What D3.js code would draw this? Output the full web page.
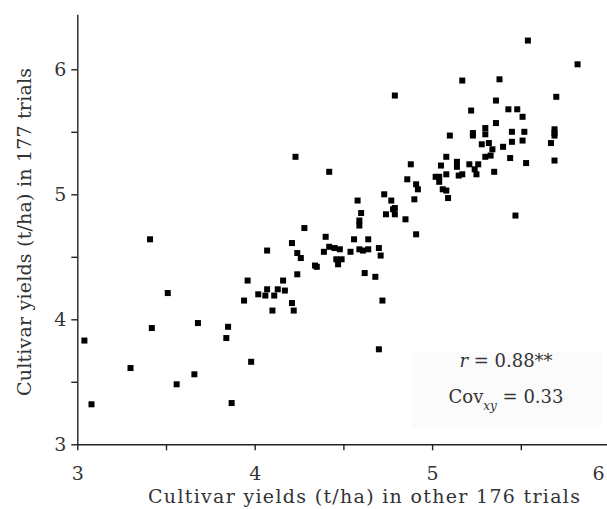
<!DOCTYPE html>
<html>
<head>
<meta charset="utf-8">
<script src="https://cdn.jsdelivr.net/npm/d3@7"></script>
<style>
  body { margin: 0; background: #fff; }
  svg { display: block; }
  .tick text { font-family: "DejaVu Serif", serif; }
</style>
</head>
<body>
<svg id="scatter" width="607" height="509"></svg>
<script>
// yields in the other 176 trials (x) and in 177 trials (y), per cultivar
var xVals = [3.04,3.08,3.30,3.42,3.41,3.51,3.56,3.66,3.68,3.84,
  3.85,3.87,3.94,3.96,3.98,4.02,4.06,4.07,4.10,4.11,
  4.13,4.16,4.17,4.21,4.22,4.07,4.21,4.24,4.26,4.28,
  4.24,4.23,4.40,4.34,4.35,4.39,4.42,4.45,4.48,4.46,
  4.49,4.47,4.54,4.56,4.64,4.59,4.61,4.64,4.70,4.71,
  4.62,4.68,4.72,4.70,4.59,4.59,4.58,4.60,4.42,4.73,
  4.77,4.79,4.78,4.74,4.79,4.85,4.91,4.90,4.86,4.91,
  4.92,4.88,4.79,5.02,5.04,5.04,5.06,5.08,5.09,5.05,
  5.08,5.08,5.14,5.14,5.15,5.17,5.21,5.26,5.24,5.25,
  5.35,5.10,5.23,5.23,5.30,5.30,5.36,5.28,5.32,5.34,
  5.40,5.30,5.33,5.44,5.45,5.52,5.45,5.51,5.53,5.22,
  5.36,5.43,5.48,5.51,5.17,5.38,5.54,5.82,5.70,5.69,
  5.69,5.69,5.67,5.69,5.47]
var yVals = [3.83,3.32,3.61,3.93,4.64,4.21,3.48,3.56,3.97,3.85,
  3.94,3.33,4.15,4.31,3.66,4.20,4.19,4.24,4.07,4.19,
  4.24,4.31,4.23,4.13,4.07,4.55,4.61,4.53,4.49,4.73,
  4.36,5.30,4.66,4.43,4.42,4.54,4.58,4.57,4.56,4.48,
  4.48,4.44,4.54,4.64,4.64,4.56,4.55,4.56,4.57,4.51,
  4.37,4.34,4.15,3.76,4.79,4.75,4.95,4.85,5.18,5.00,
  4.95,4.89,4.88,4.84,4.84,4.80,4.68,4.96,5.12,5.08,
  5.04,5.24,5.79,5.14,5.14,5.10,5.04,5.03,4.97,5.23,
  5.30,5.16,5.26,5.22,5.15,5.16,5.24,5.24,5.20,5.16,
  5.18,5.47,5.49,5.47,5.48,5.53,5.57,5.40,5.41,5.36,
  5.38,5.30,5.31,5.29,5.50,5.50,5.42,5.43,5.25,5.67,
  5.75,5.68,5.68,5.62,5.91,5.92,6.23,6.04,5.78,5.52,
  5.49,5.47,5.41,5.27,4.83]

var tickVals = [3, 3.5, 4, 4.5, 5, 5.5, 6]
var xTitle = "Cultivar yields (t/ha) in other 176 trials"
var yTitle = "Cultivar yields (t/ha) in 177 trials"
var rText = "0.88**"
var covText = "0.33"

var svg = d3.select("#scatter")
var textColor = "#333"
var serif = "DejaVu Serif, serif"

var xScale = d3.scaleLinear().domain([3, 6]).range([77.3, 609.5])
var yScale = d3.scaleLinear().domain([3, 6.44]).range([444.3, 14.3])

var points = xVals.map(function(d, i) { return {x: d, y: yVals[i]} })

// stats box
svg.append("rect")
  .attr("x", 411.5).attr("y", 351.5)
  .attr("width", 190).attr("height", 77)
  .attr("fill", "#fbfbfb")

var xAxis = d3.axisBottom(xScale)
  .tickValues(tickVals)
  .tickSize(6)
  .tickSizeOuter(0)
  .tickFormat(function(d) { return Number.isInteger(d) ? d : "" })

var gx = svg.append("g")
  .attr("transform", "translate(0," + yScale(3) + ")")
  .call(xAxis)
gx.selectAll(".tick text")
  .attr("y", 36)
  .attr("dy", null)
  .attr("x", function(d) { return Math.min(xScale(d), 598) - xScale(d) })
  .style("font-size", "19px")
  .style("fill", textColor)

var yAxis = d3.axisLeft(yScale)
  .tickValues(tickVals)
  .tickSize(6)
  .tickSizeOuter(0)
  .tickFormat(function(d) { return Number.isInteger(d) ? d : "" })

var gy = svg.append("g")
  .attr("transform", "translate(" + xScale(3) + ",0)")
  .call(yAxis)
gy.selectAll(".tick text")
  .attr("x", -11)
  .style("font-size", "19px")
  .style("fill", textColor)

svg.selectAll(".domain, .tick line")
  .attr("stroke", "#222")
  .attr("stroke-width", 1.4)

svg.append("g")
  .selectAll("rect.pt")
  .data(points)
  .enter()
  .append("rect")
    .attr("class", "pt")
    .attr("x", function(d) { return xScale(d.x) - 3 })
    .attr("y", function(d) { return yScale(d.y) - 3 })
    .attr("width", 6)
    .attr("height", 6)
    .attr("fill", "#000")

// axis titles
svg.append("text")
  .attr("x", 364).attr("y", 503)
  .attr("text-anchor", "middle")
  .attr("textLength", 432)
  .style("font-family", serif)
  .style("font-size", "19px")
  .style("fill", textColor)
  .text(xTitle)

svg.append("text")
  .attr("transform", "translate(31,232) rotate(-90)")
  .attr("text-anchor", "middle")
  .attr("textLength", 328)
  .style("font-family", serif)
  .style("font-size", "19px")
  .style("fill", textColor)
  .text(yTitle)

// r and covariance labels
var rLabel = svg.append("text")
  .attr("x", 506).attr("y", 367)
  .attr("text-anchor", "middle")
  .style("font-family", serif)
  .style("font-size", "18px")
  .style("fill", textColor)
rLabel.append("tspan").style("font-style", "italic").text("r")
rLabel.append("tspan").text(" = " + rText)

var covLabel = svg.append("text")
  .attr("x", 506).attr("y", 403)
  .attr("text-anchor", "middle")
  .style("font-family", serif)
  .style("font-size", "18px")
  .style("fill", textColor)
covLabel.append("tspan").text("Cov")
covLabel.append("tspan")
  .attr("dy", 7)
  .style("font-style", "italic")
  .style("font-size", "12px")
  .text("xy")
covLabel.append("tspan")
  .attr("dy", -7)
  .text(" = " + covText)
</script>
</body>
</html>
